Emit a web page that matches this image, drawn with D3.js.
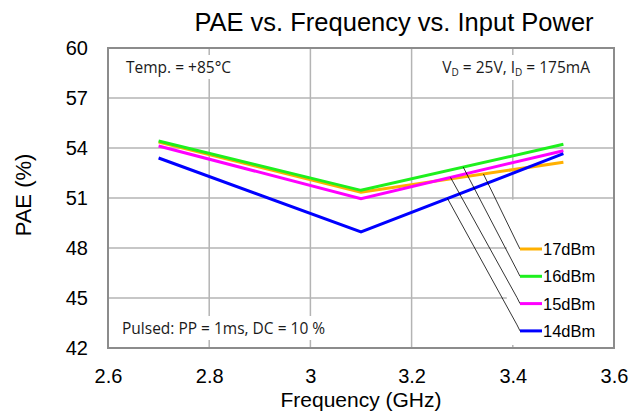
<!DOCTYPE html>
<html>
<head>
<meta charset="utf-8">
<script src="https://cdn.jsdelivr.net/npm/d3@7"></script>
<style>
  html, body { margin: 0; padding: 0; background: #fff; }
  svg { display: block; }
</style>
</head>
<body>
<svg id="chart" width="642" height="416"></svg>
<script>
// ---- data ----
const frequencies = [2.7, 3.1, 3.5];
const seriesNames = ["17dBm", "16dBm", "15dBm", "14dBm"];
const pae17 = [54.35, 51.35, 53.15];
const pae16 = [54.42, 51.46, 54.22];
const pae15 = [54.12, 50.96, 53.84];
const pae14 = [53.4, 48.96, 53.66];
const seriesColors = ["#FFB000", "#1EF01E", "#FF00FF", "#0000FF"];
const leaderFreqs = [3.342, 3.302, 3.277, 3.271];
const xTicks = [2.6, 2.8, 3.0, 3.2, 3.4, 3.6];
const yTicks = [42, 45, 48, 51, 54, 57, 60];
const titleText = "PAE vs. Frequency vs. Input Power";
const xLabel = "Frequency (GHz)";
const yLabel = "PAE (%)";

const seriesValues = [pae17, pae16, pae15, pae14];

const svg = d3.select("#chart");
const M = { left: 108, right: 614, top: 48, bottom: 348 };

const x = d3.scaleLinear().domain([2.6, 3.6]).range([M.left, M.right]);
const y = d3.scaleLinear().domain([42, 60]).range([M.bottom, M.top]);

// grid
const grid = svg.append("g");
grid.selectAll(".gx").data(xTicks.slice(1, -1)).enter().append("line")
  .attr("x1", d => x(d)).attr("x2", d => x(d))
  .attr("y1", M.top).attr("y2", M.bottom)
  .attr("stroke", "#b4b4b4").attr("stroke-width", 1.5);
grid.selectAll(".gy").data(yTicks.slice(1, -1)).enter().append("line")
  .attr("x1", M.left).attr("x2", M.right)
  .attr("y1", d => y(d)).attr("y2", d => y(d))
  .attr("stroke", "#b4b4b4").attr("stroke-width", 1.5);

// legend box (white, covers grid)
const legTop = y(50.9), legLeft = x(3.4) - 6;
svg.append("rect").attr("x", legLeft).attr("y", legTop)
  .attr("width", M.right - legLeft - 1).attr("height", M.bottom - legTop - 3)
  .attr("fill", "#fff");

// annotation boxes
const annFont = "'Open Sans', sans-serif";
function annot(txtFn, xPos, yPos, anchor) {
  const t = svg.append("text").attr("x", xPos).attr("y", yPos)
    .attr("font-family", annFont).attr("font-size", 15.5)
    .attr("fill", "#1a1a1a").attr("text-anchor", anchor);
  txtFn(t);
  const bb = t.node().getBBox();
  svg.insert("rect", () => t.node())
    .attr("x", bb.x - 2).attr("y", bb.y - 1)
    .attr("width", bb.width + 4).attr("height", bb.height + 2)
    .attr("fill", "#fff");
  return t;
}
annot(t => t.text("Temp. = +85°C"), 126, 73, "start");
annot(t => {
  t.append("tspan").text("V");
  t.append("tspan").attr("font-size", 10).attr("dy", 3).text("D");
  t.append("tspan").attr("dy", -3).text(" = 25V, I");
  t.append("tspan").attr("font-size", 10).attr("dy", 3).text("D");
  t.append("tspan").attr("dy", -3).text(" = 175mA");
}, 590, 73, "end");
annot(t => t.text("Pulsed: PP = 1ms, DC = 10 %"), 122, 334, "start");

// series lines
const line = d3.line().x(d => x(d[0])).y(d => y(d[1]));
seriesValues.forEach((vals, i) => {
  const pts = frequencies.map((f, j) => [f, vals[j]]);
  svg.append("path").datum(pts)
    .attr("d", line)
    .attr("fill", "none")
    .attr("stroke", seriesColors[i])
    .attr("stroke-width", 3)
    .attr("stroke-linejoin", "miter");
});

// plot border
svg.append("rect").attr("x", M.left).attr("y", M.top)
  .attr("width", M.right - M.left).attr("height", M.bottom - M.top)
  .attr("fill", "none").attr("stroke", "#8c8c8c").attr("stroke-width", 2);

// legend with leader lines
seriesNames.forEach((name, i) => {
  const vals = seriesValues[i];
  const f = leaderFreqs[i];
  const t = (f - frequencies[1]) / (frequencies[2] - frequencies[1]);
  const v = vals[1] + t * (vals[2] - vals[1]);
  const ly = 249 + i * 27.3;
  const lx = 520;
  svg.append("polyline")
    .attr("points", [[x(f), y(v)], [lx - 3, ly - 6], [lx, ly]].map(p => p.join(",")).join(" "))
    .attr("fill", "none").attr("stroke", "#000").attr("stroke-width", 0.8);
  svg.append("line").attr("x1", lx).attr("x2", lx + 22)
    .attr("y1", ly).attr("y2", ly)
    .attr("stroke", seriesColors[i]).attr("stroke-width", 3);
  svg.append("text").attr("x", lx + 23).attr("y", ly + 6)
    .attr("font-family", "'Liberation Sans', Arial, sans-serif")
    .attr("font-size", 16.5).attr("fill", "#000").text(name);
});

// axes
const font = "'Liberation Sans', Arial, sans-serif";
const xAxis = svg.append("g").attr("transform", `translate(0,${M.bottom})`)
  .call(d3.axisBottom(x).tickValues(xTicks).tickSize(0).tickPadding(0)
    .tickFormat(d => d3.format("")(+d.toFixed(1))));
xAxis.select(".domain").remove();
xAxis.selectAll("text").attr("font-family", font).attr("font-size", 20)
  .attr("fill", "#000").attr("dy", null).attr("y", 35);

const yAxis = svg.append("g").attr("transform", `translate(${M.left},0)`)
  .call(d3.axisLeft(y).tickValues(yTicks).tickSize(0).tickPadding(20));
yAxis.select(".domain").remove();
yAxis.selectAll("text").attr("font-family", font).attr("font-size", 20)
  .attr("fill", "#000");

// titles
svg.append("text").attr("x", 394).attr("y", 31).attr("text-anchor", "middle")
  .attr("font-family", font).attr("font-size", 25.5).attr("fill", "#000").text(titleText);
svg.append("text").attr("x", 361).attr("y", 407).attr("text-anchor", "middle")
  .attr("font-family", font).attr("font-size", 21).attr("fill", "#000").text(xLabel);
svg.append("text").attr("transform", "translate(31,195) rotate(-90)").attr("text-anchor", "middle")
  .attr("font-family", font).attr("font-size", 22).attr("fill", "#000").text(yLabel);
</script>
</body>
</html>
